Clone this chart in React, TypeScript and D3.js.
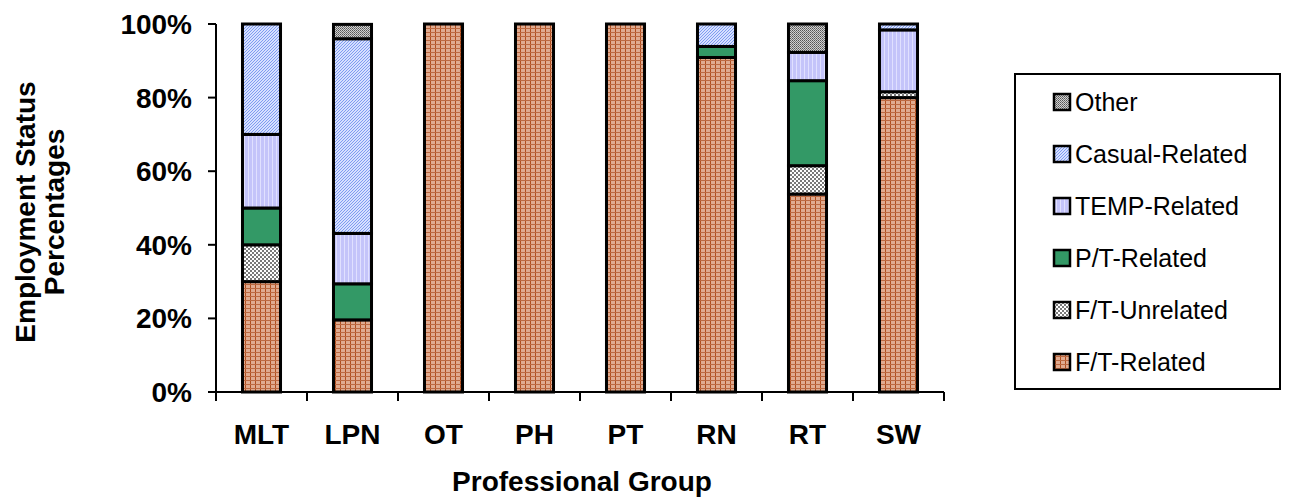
import React from "react";
import * as d3 from "d3";

// Professional groups along the x axis
const categories = ["MLT", "LPN", "OT", "PH", "PT", "RN", "RT", "SW"];

// Share of each employment status per group (percent)
const ftRelated = [30, 19.6, 100, 100, 100, 90.9, 53.8, 80.0];
const ftUnrelated = [10, 0, 0, 0, 0, 0, 7.7, 1.6];
const ptRelated = [10, 9.8, 0, 0, 0, 3.0, 23.1, 0];
const tempRelated = [20, 13.7, 0, 0, 0, 0, 7.7, 16.8];
const casualRelated = [30, 52.9, 0, 0, 0, 6.1, 0, 1.6];
const other = [0, 3.9, 0, 0, 0, 0, 7.7, 0];

const yTicks = [0, 20, 40, 60, 80, 100];

const seriesNames = [
  "F/T-Related",
  "F/T-Unrelated",
  "P/T-Related",
  "TEMP-Related",
  "Casual-Related",
  "Other",
];
const seriesValues = [ftRelated, ftUnrelated, ptRelated, tempRelated, casualRelated, other];
const seriesFills = [
  "url(#pFtRel)",
  "url(#pFtUnrel)",
  "#339966",
  "url(#pTemp)",
  "url(#pCasual)",
  "url(#pOther)",
];

const W = 1290;
const H = 498;
const plotLeft = 216;
const plotRight = 944;
const plotTop = 24;
const plotBottom = 392;
const FONT = "Arial, 'Liberation Sans', Helvetica, sans-serif";

export default function App() {
  const x = d3
    .scaleBand<string>()
    .domain(categories)
    .range([plotLeft, plotRight])
    .paddingInner(0.582)
    .paddingOuter(0.291);
  const y = d3.scaleLinear().domain([0, 100]).range([plotBottom, plotTop]);

  const rows = categories.map((c, i) => {
    const r: Record<string, number | string> = { cat: c };
    seriesNames.forEach((s, k) => (r[s] = seriesValues[k][i]));
    return r;
  });
  const stacked = d3.stack<Record<string, number | string>>().keys(seriesNames)(rows as any);

  const step = x.step();
  const boundaries = d3.range(categories.length + 1).map((k) => plotLeft + k * step);

  const legendOrder = [...seriesNames].reverse();
  const legendX = 1015;
  const legendY = 74;
  const legendW = 265;
  const legendH = 315;
  const rowGap = 52;
  const firstRow = 102;

  return (
    <div style={{ position: "absolute", left: 0, top: 0 }}>
      <svg width={W} height={H} style={{ display: "block", background: "#fff" }} fontFamily={FONT}>
        <defs>
          <pattern id="pFtRel" width="5" height="4" patternUnits="userSpaceOnUse">
            <rect width="5" height="4" fill="#e0ab90" />
            <line x1="0.5" y1="0" x2="0.5" y2="4" stroke="#b04e1e" strokeWidth="1" />
            <line x1="0" y1="0.5" x2="5" y2="0.5" stroke="#bd6a42" strokeWidth="1" />
          </pattern>
          <pattern id="pFtUnrel" width="4" height="4" patternUnits="userSpaceOnUse">
            <rect width="4" height="4" fill="#ffffff" />
            <rect x="0" y="0" width="2" height="2" fill="#7a7a7a" />
            <rect x="2" y="2" width="2" height="2" fill="#7a7a7a" />
          </pattern>
          <pattern id="pTemp" width="4" height="4" patternUnits="userSpaceOnUse">
            <rect width="4" height="4" fill="#c4c4fa" />
            <rect x="0" y="0" width="1" height="4" fill="#e0e0ff" />
          </pattern>
          <pattern id="pCasual" width="3" height="3" patternUnits="userSpaceOnUse">
            <rect width="3" height="3" fill="#d6e0ff" />
            <path d="M0,3 L3,0 M-1,1 L1,-1 M2,4 L4,2" stroke="#7f9bf0" strokeWidth="1" />
          </pattern>
          <pattern id="pOther" width="2" height="2" patternUnits="userSpaceOnUse">
            <rect width="2" height="2" fill="#d0d0d0" />
            <rect x="0" y="0" width="1" height="1" fill="#555555" />
            <rect x="1" y="1" width="1" height="1" fill="#777777" />
          </pattern>
        </defs>

        {/* stacked bars */}
        {stacked.map((layer, k) => (
          <g key={layer.key} fill={seriesFills[k]}>
            {layer.map((d, i) => {
              const v = d[1] - d[0];
              if (v <= 0) return null;
              return (
                <rect
                  key={categories[i]}
                  x={x(categories[i])}
                  y={y(d[1])}
                  width={x.bandwidth()}
                  height={y(d[0]) - y(d[1])}
                  stroke="#000"
                  strokeWidth={3}
                />
              );
            })}
          </g>
        ))}

        {/* y axis */}
        <line x1={plotLeft} y1={plotTop} x2={plotLeft} y2={plotBottom + 9} stroke="#000" strokeWidth={2} />
        {yTicks.map((t) => (
          <g key={t}>
            <line x1={plotLeft - 8} y1={y(t)} x2={plotLeft} y2={y(t)} stroke="#000" strokeWidth={2} />
            <text
              x={192}
              y={y(t) + 10}
              textAnchor="end"
              fontSize={28}
              fontWeight="bold"
              fill="#000"
            >
              {t}%
            </text>
          </g>
        ))}

        {/* x axis */}
        <line x1={plotLeft - 8} y1={plotBottom} x2={plotRight} y2={plotBottom} stroke="#000" strokeWidth={2} />
        {boundaries.map((bx, k) => (
          <line key={k} x1={bx} y1={plotBottom} x2={bx} y2={plotBottom + 9} stroke="#000" strokeWidth={2} />
        ))}
        {categories.map((c) => (
          <text
            key={c}
            x={(x(c) as number) + x.bandwidth() / 2}
            y={444}
            textAnchor="middle"
            fontSize={28}
            fontWeight="bold"
            fill="#000"
          >
            {c}
          </text>
        ))}

        {/* axis titles */}
        <text x={(plotLeft + plotRight) / 2 + 2} y={491} textAnchor="middle" fontSize={28} fontWeight="bold">
          Professional Group
        </text>
        <g transform={`translate(0, ${(plotTop + plotBottom) / 2 + 4}) rotate(-90)`} fontSize={28} fontWeight="bold">
          <text x={0} y={35} textAnchor="middle">
            Employment Status
          </text>
          <text x={0} y={64} textAnchor="middle">
            Percentages
          </text>
        </g>

        {/* legend */}
        <rect x={legendX} y={legendY} width={legendW} height={legendH} fill="#fff" stroke="#000" strokeWidth={2} />
        {legendOrder.map((name, i) => {
          const k = seriesNames.indexOf(name);
          const cy = firstRow + i * rowGap;
          return (
            <g key={name}>
              <rect x={1054} y={cy - 8} width={16} height={16} fill={seriesFills[k]} stroke="#000" strokeWidth={2.5} />
              <text x={1075} y={cy + 9} fontSize={25} fill="#000">
                {name}
              </text>
            </g>
          );
        })}
      </svg>
    </div>
  );
}
